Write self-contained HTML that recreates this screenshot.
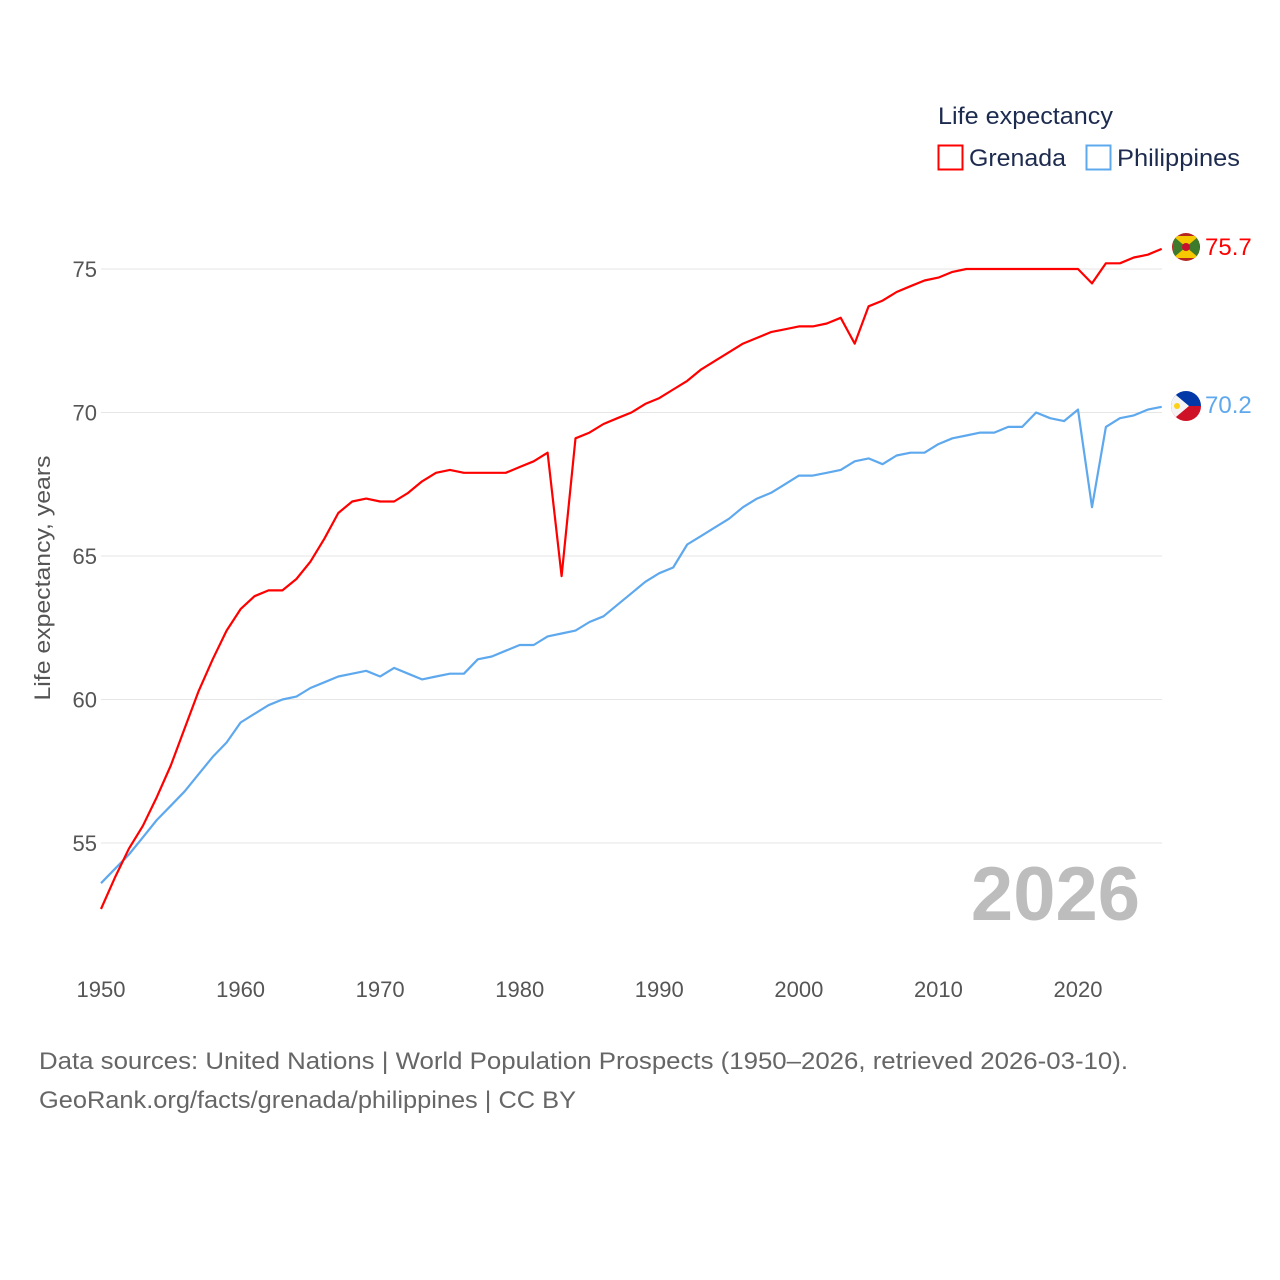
<!DOCTYPE html>
<html><head><meta charset="utf-8"><style>
html,body{margin:0;padding:0;background:#fff}
svg{display:block;font-family:"Liberation Sans",Lato,sans-serif}
</style></head><body>
<svg id="chart" width="1280" height="1280" viewBox="0 0 1280 1280">
<g id="grid"></g>
<g id="yticks"></g>
<g id="xticks"></g>
<text transform="translate(50,578) rotate(-90)" text-anchor="middle" font-size="22" fill="#555" textLength="245" lengthAdjust="spacingAndGlyphs">Life expectancy, years</text>
<text x="1140" y="920" text-anchor="end" font-size="76" font-weight="bold" fill="#bdbdbd">2026</text>
<g id="lines"></g>
<g>
<text x="938" y="124" font-size="24" fill="#1d2b4f" textLength="175" lengthAdjust="spacingAndGlyphs">Life expectancy</text>
<g><rect x="938.5" y="145.5" width="24" height="24" fill="#fff" stroke="#ff0000" stroke-width="2"/><text x="969" y="166" font-size="24" fill="#1d2b4f" textLength="97" lengthAdjust="spacingAndGlyphs">Grenada</text></g>
<g><rect x="1086.5" y="145.5" width="24" height="24" fill="#fff" stroke="#5ea8ee" stroke-width="2"/><text x="1117" y="166" font-size="24" fill="#1d2b4f" textLength="123" lengthAdjust="spacingAndGlyphs">Philippines</text></g>
</g>
<defs>
<clipPath id="cg"><circle cx="1186" cy="247" r="14"/></clipPath>
<clipPath id="cp"><circle cx="1186" cy="406" r="15"/></clipPath>
</defs>
<g clip-path="url(#cg)">
<rect x="1170" y="231" width="32" height="32" fill="#b5261e"/>
<rect x="1173" y="236" width="26" height="22" fill="#3d7a2b"/>
<polygon points="1173,236 1199,236 1186,247" fill="#f5c800"/>
<polygon points="1173,258 1199,258 1186,247" fill="#f5c800"/>
<circle cx="1186" cy="247" r="4" fill="#c8102e"/>
</g>
<g clip-path="url(#cp)">
<rect x="1170" y="390" width="32" height="16" fill="#0038a8"/>
<rect x="1170" y="406" width="32" height="16" fill="#ce1126"/>
<polygon points="1170,390 1170,422 1189,406" fill="#f4f4f4"/>
<circle cx="1177" cy="406" r="3" fill="#fcd116"/>
</g>
<text x="1205" y="255" font-size="24" fill="#ff0000">75.7</text>
<text x="1205" y="413" font-size="24" fill="#5ea8ee">70.2</text>
<text x="39" y="1069" font-size="24" fill="#666" textLength="1089" lengthAdjust="spacingAndGlyphs">Data sources: United Nations | World Population Prospects (1950–2026, retrieved 2026-03-10).</text>
<text x="39" y="1108" font-size="24" fill="#666" textLength="537" lengthAdjust="spacingAndGlyphs">GeoRank.org/facts/grenada/philippines | CC BY</text>
</svg>
<script>
const years = [];
for (let y = 1950; y <= 2026; y++) years.push(y);
const grenada = [52.7,53.8,54.8,55.6,56.6,57.7,59.0,60.3,61.4,62.4,63.15,63.6,63.8,63.8,64.2,64.8,65.6,66.5,66.9,67.0,66.9,66.9,67.2,67.6,67.9,68.0,67.9,67.9,67.9,67.9,68.1,68.3,68.6,64.3,69.1,69.3,69.6,69.8,70.0,70.3,70.5,70.8,71.1,71.5,71.8,72.1,72.4,72.6,72.8,72.9,73.0,73.0,73.1,73.3,72.4,73.7,73.9,74.2,74.4,74.6,74.7,74.9,75.0,75.0,75.0,75.0,75.0,75.0,75.0,75.0,75.0,74.5,75.2,75.2,75.4,75.5,75.7];
const philippines = [53.6,54.1,54.6,55.2,55.8,56.3,56.8,57.4,58.0,58.5,59.2,59.5,59.8,60.0,60.1,60.4,60.6,60.8,60.9,61.0,60.8,61.1,60.9,60.7,60.8,60.9,60.9,61.4,61.5,61.7,61.9,61.9,62.2,62.3,62.4,62.7,62.9,63.3,63.7,64.1,64.4,64.6,65.4,65.7,66.0,66.3,66.7,67.0,67.2,67.5,67.8,67.8,67.9,68.0,68.3,68.4,68.2,68.5,68.6,68.6,68.9,69.1,69.2,69.3,69.3,69.5,69.5,70.0,69.8,69.7,70.1,66.7,69.5,69.8,69.9,70.1,70.2];
const yTicks = [55,60,65,70,75];
const xTicks = [1950,1960,1970,1980,1990,2000,2010,2020];
const NS = "http://www.w3.org/2000/svg";
const X = v => 101 + (v - 1950) * (1078 - 101) / 70;
const Y = v => 269 + (75 - v) * 28.7;
function mk(tag, attrs, parent) {
  const el = document.createElementNS(NS, tag);
  for (const k in attrs) el.setAttribute(k, attrs[k]);
  parent.appendChild(el);
  return el;
}
const grid = document.getElementById('grid');
const yt = document.getElementById('yticks');
yTicks.forEach(t => {
  const l = mk('line', {x1: 101, x2: 1162, y1: Y(t), y2: Y(t), stroke: '#e6e6e6', 'stroke-width': 1}, grid);
  
  
  const tx = mk('text', {x: 97, y: Y(t) + 8, 'text-anchor': 'end', 'font-size': 22, fill: '#555'}, yt);
  tx.textContent = t;
  
  
});
const xt = document.getElementById('xticks');
xTicks.forEach(t => {
  const tx = mk('text', {x: X(t), y: 997, 'text-anchor': 'middle', 'font-size': 22, fill: '#555'}, xt);
  tx.textContent = t;
  
  
});
const lines = document.getElementById('lines');
function draw(vals, color, name) {
  const pts = vals.map((v, i) => X(years[i]).toFixed(1) + ',' + Y(v).toFixed(1)).join(' ');
  const p = mk('polyline', {points: pts, fill: 'none', stroke: color, 'stroke-width': 2.2, 'stroke-linejoin': 'round'}, lines);
  
  
}
draw(philippines, '#5ea8ee', 'philippines-line');
draw(grenada, '#ff0000', 'grenada-line');
</script>
</body></html>
